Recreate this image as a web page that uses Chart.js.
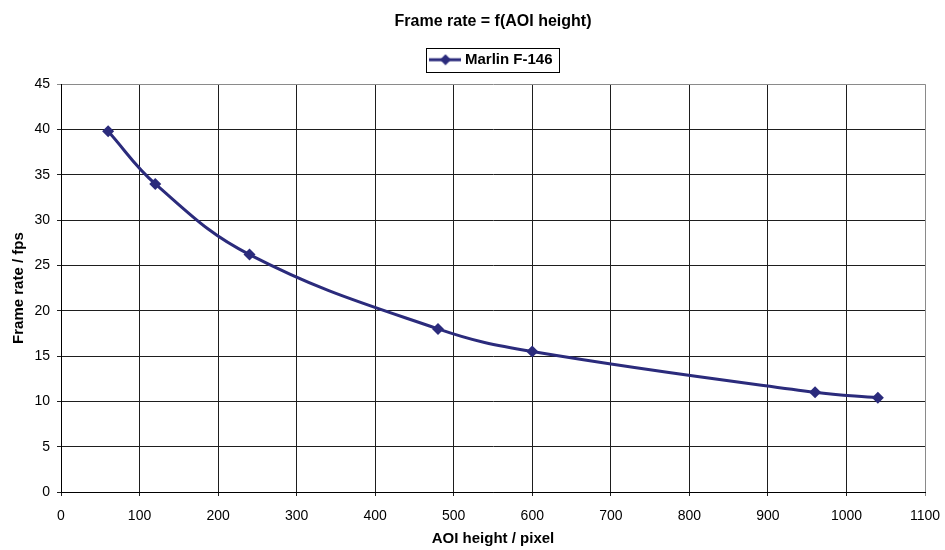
<!DOCTYPE html>
<html>
<head>
<meta charset="utf-8">
<script src="https://cdn.jsdelivr.net/npm/chart.js@4/dist/chart.umd.min.js"></script>
<style>
  html, body { margin: 0; padding: 0; background: #ffffff; }
  #wrap { width: 945px; height: 550px; }
</style>
</head>
<body>
<div id="wrap"><canvas id="c" width="945" height="550"></canvas></div>
<script>
// Frame rate of the Marlin F-146 versus AOI height
const aoiHeights = [60, 120, 240, 480, 600, 960, 1040];
const frameRates = [39.8, 34.0, 26.2, 18.0, 15.5, 11.0, 10.4];
const seriesName = 'Marlin F-146';
const chartTitle = 'Frame rate = f(AOI height)';
const xTitle = 'AOI height / pixel';
const yTitle = 'Frame rate / fps';

const lineColor = '#2b2b7c';
const FONT = 'Liberation Sans, Arial, sans-serif';

// Legend symbol: a short line with a diamond in the middle
function legendSymbol() {
  const cv = document.createElement('canvas');
  cv.width = 32; cv.height = 12;
  const g = cv.getContext('2d');
  g.strokeStyle = lineColor; g.lineWidth = 3;
  g.beginPath(); g.moveTo(0, 6); g.lineTo(32, 6); g.stroke();
  g.fillStyle = lineColor;
  g.beginPath(); g.moveTo(16, 0.5); g.lineTo(21.5, 6); g.lineTo(16, 11.5); g.lineTo(10.5, 6); g.closePath(); g.fill();
  return cv;
}
const symbol = legendSymbol();

// Extra space under the legend, and a frame around its entry
const legendFrame = {
  id: 'legendFrame',
  beforeLayout(chart) {
    const lg = chart.legend;
    if (lg && !lg._extraSpace) {
      const fit = lg.fit.bind(lg);
      lg.fit = function () { fit(); this.height += 7; };
      lg._extraSpace = true;
    }
  },
  afterDraw(chart) {
    const lg = chart.legend;
    if (!lg || !lg.legendHitBoxes || !lg.legendHitBoxes.length) return;
    const hb = lg.legendHitBoxes[0];
    const cy = hb.top + hb.height / 2;
    const ctx = chart.ctx;
    ctx.save();
    ctx.strokeStyle = '#000';
    ctx.lineWidth = 1;
    const l = Math.round(hb.left - 7) + 0.5;
    const r = Math.round(hb.left + hb.width + 6) + 0.5;
    const t = Math.round(cy - 12) + 0.5;
    ctx.strokeRect(l, t, r - l, 24);
    ctx.restore();
  }
};

const gridColor = (edgeValue) => (c) => (c.tick && c.tick.value === edgeValue ? '#8a8a8a' : '#1e1e1e');

new Chart(document.getElementById('c'), {
  type: 'line',
  data: {
    datasets: [{
      label: seriesName,
      data: aoiHeights.map((x, i) => ({ x: x, y: frameRates[i] })),
      borderColor: lineColor,
      backgroundColor: lineColor,
      borderWidth: 3,
      tension: 0.4,
      pointStyle: 'rectRot',
      pointRadius: 6,
      pointHoverRadius: 6,
      pointBorderWidth: 0,
      fill: false
    }]
  },
  options: {
    responsive: false,
    animation: false,
    events: [],
    layout: { padding: { left: 0, right: 20, top: 0, bottom: 0 } },
    plugins: {
      title: {
        display: true,
        fullSize: false,
        text: chartTitle,
        color: '#000',
        font: { family: FONT, size: 16, weight: 'bold' },
        padding: { top: 12, bottom: 3 }
      },
      legend: {
        display: true,
        fullSize: false,
        labels: {
          color: '#000',
          font: { family: FONT, size: 15, weight: 'bold' },
          usePointStyle: true,
          pointStyleWidth: 24,
          padding: 18,
          generateLabels: () => [{
            text: seriesName,
            pointStyle: symbol,
            fillStyle: lineColor,
            strokeStyle: lineColor,
            lineWidth: 0,
            datasetIndex: 0,
            hidden: false
          }]
        }
      },
      tooltip: { enabled: false }
    },
    scales: {
      x: {
        type: 'linear',
        min: 0, max: 1100,
        ticks: { stepSize: 100, color: '#000', padding: 12, font: { family: FONT, size: 14 },
                 callback: (v) => String(v) },
        grid: { color: gridColor(1100), lineWidth: 1, tickLength: 4, drawTicks: true },
        border: { color: '#000', width: 1 },
        title: { display: true, text: xTitle, color: '#000', font: { family: FONT, size: 15, weight: 'bold' }, padding: { top: 0, bottom: 2 } },
        afterFit: (s) => { s.height = 58; s.paddingLeft = 0; s.paddingRight = 0; }
      },
      y: {
        type: 'linear',
        min: 0, max: 45,
        ticks: { stepSize: 5, color: '#000', padding: 7, font: { family: FONT, size: 14 },
                 callback: (v) => String(v) },
        grid: { color: gridColor(45), lineWidth: 1, tickLength: 4, drawTicks: true },
        border: { color: '#000', width: 1 },
        title: { display: true, text: yTitle, color: '#000', font: { family: FONT, size: 15, weight: 'bold' }, padding: { top: 10, bottom: 0 } },
        afterFit: (s) => { s.width = 61; s.paddingTop = 0; s.paddingBottom = 0; }
      }
    }
  },
  plugins: [legendFrame]
});
</script>
</body>
</html>
